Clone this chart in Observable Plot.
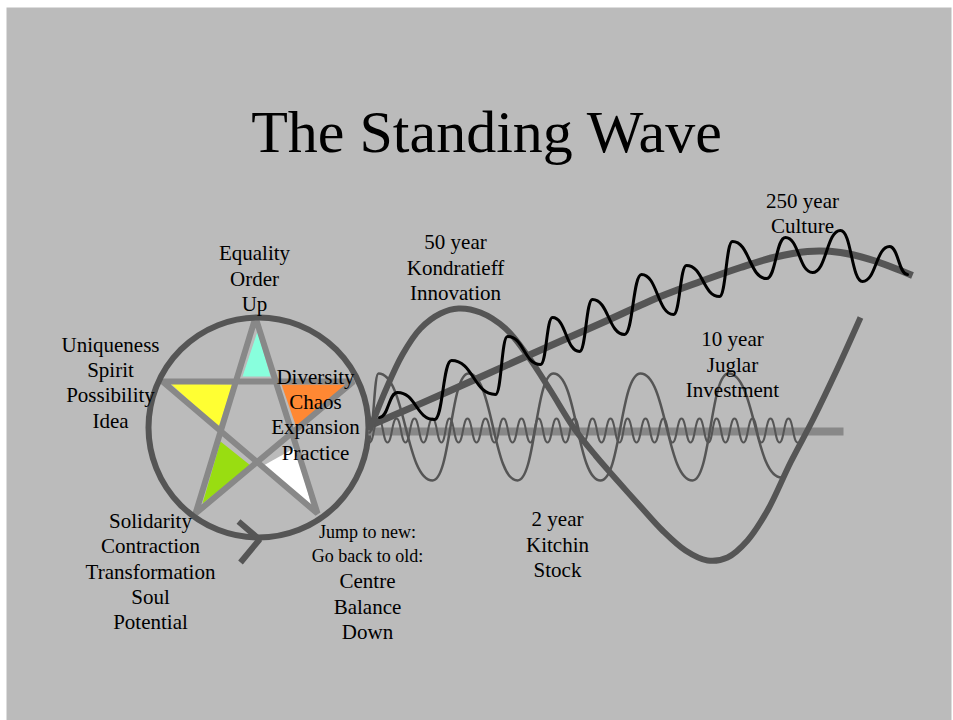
<!DOCTYPE html>
<html>
<head>
<meta charset="utf-8">
<script src="https://cdn.jsdelivr.net/npm/d3@7"></script>
<script src="https://cdn.jsdelivr.net/npm/@observablehq/plot@0.6"></script>
<style>
  html, body { margin: 0; padding: 0; background: #ffffff; }
  #chart svg { display: block; }
</style>
</head>
<body>
<div id="chart"></div>
<script>
// ---------- DATA (diagram coordinates: x to the right, y downward) ----------
const titleText = ["The Standing Wave"];
const titleAnchor = [{x: 486, y: 151}];

// Pentagram: enclosing circle centre and the star's five points
const circleCentre = [{x: 258, y: 427}];
const starPath = [ // top -> bottom-left -> right -> left -> bottom-right -> top
  {x: 255, y: 317}, {x: 195, y: 513}, {x: 353, y: 381},
  {x: 162, y: 381}, {x: 317, y: 513}, {x: 255, y: 317}
];
// Coloured arms of the star
const armTop   = [{x: 257, y: 331}, {x: 242, y: 376}, {x: 270, y: 376}];
const armLeft  = [{x: 170, y: 383}, {x: 232, y: 384}, {x: 218, y: 427}];
const armRight = [{x: 281, y: 384}, {x: 349, y: 384}, {x: 297, y: 430}];
const armLowL  = [{x: 220, y: 441}, {x: 250, y: 465}, {x: 202, y: 503}];
const armLowR  = [{x: 263, y: 465}, {x: 297, y: 446}, {x: 311, y: 507}];
// Chevron under the circle
const chevron = [{x: 238, y: 521}, {x: 259, y: 539}, {x: 240, y: 562}];

// Waves
const axisLine = [{x: 368, y: 431}, {x: 843, y: 431}];
// 2 year Kitchin: alternating troughs / peaks
const kitchin = [
  [369,442],[378,418],[387,442],[396,418],[405,442],[414,418],[423,442],[432,418],
  [441,442],[449,418],[458,442],[467,418],[476,442],[485,418],[494,442],[503,418],
  [512,442],[521,418],[530,442],[538,418],[547,442],[556,418],[565,442],[574,418],
  [583,442],[592,418],[601,442],[610,418],[619,442],[627,418],[636,442],[645,418],
  [654,442],[663,418],[672,442],[681,418],[690,442],[699,418],[708,442],[716,418],
  [725,442],[734,418],[743,442],[752,418],[761,442],[770,418],[779,442],[788,418],
  [797,442]
].map(([x, y]) => ({x, y}));
// 10 year Juglar
const juglar = [
  [369,432],[378,373],[432,480],[468,373],[517,480],[553,373],
  [600,480],[640,373],[692,480],[728,373],[781,477]
].map(([x, y]) => ({x, y}));
// 50 year Kondratieff
const kondratieff = [
  [369,430],[385,390],[402,354],[420,328],[440,313],[458,308],[480,312],
  [505,328],[527,355],[550,390],[573,427],[595,455],[615,478],[640,506],
  [662,530],[685,550],[707,560],[727,557],[747,540],[767,510],[790,462],
  [813,418],[837,368],[860,317]
].map(([x, y]) => ({x, y}));
// 250 year Culture trend
const culture = [
  [372,424],[450,390],[530,354],[600,323],[660,296],[700,281],[740,267],
  [773,257],[807,251],[840,252],[873,260],[912,275]
].map(([x, y]) => ({x, y}));
// Black oscillation riding on the Culture trend (alternating peaks / troughs)
const rider = [
  [379,417],[397,392],[434,419],[451,360],[495,394],[507,336],[540,364],
  [552,317],[579,351],[592,299],[624,334],[641,274],[673,314],[686,265],
  [719,296],[732,241],[766,278],[785,237],[812,272],[840,230],[862,281],
  [889,246],[907,274]
].map(([x, y]) => ({x, y}));

// Labels
const labels = [
  {x: 254, y: 277, text: "Equality\nOrder\nUp"},
  {x: 110, y: 381, text: "Uniqueness\nSpirit\nPossibility\nIdea"},
  {x: 150, y: 570, text: "Solidarity\nContraction\nTransformation\nSoul\nPotential"},
  {x: 315, y: 413, text: "Diversity\nChaos\nExpansion\nPractice"},
  {x: 367, y: 605, text: "Centre\nBalance\nDown"},
  {x: 455, y: 266, text: "50 year\nKondratieff\nInnovation"},
  {x: 557, y: 543, text: "2 year\nKitchin\nStock"},
  {x: 732, y: 363, text: "10 year\nJuglar\nInvestment"},
  {x: 802, y: 212, text: "250 year\nCulture"}
];
const smallLabels = [{x: 367, y: 542, text: "Jump to new:\nGo back to old:"}];

// ---------- STYLE ----------
const serif = "'Liberation Serif', 'Times New Roman', Times, serif";
const dark = "#555555", mid = "#888888";
const armColors = {top: "#88ffdd", left: "#ffff33", right: "#ff8833", lowL: "#99dd11", lowR: "#ffffff"};

const arm = (pts, color) => Plot.line(pts, {x: "x", y: "y", curve: "linear-closed", fill: color, stroke: "none"});
const wave = (pts, opts) => Plot.line(pts, {x: "x", y: "y", ...opts});

const chart = Plot.plot({
  width: 953,
  height: 720,
  marginLeft: 6, marginTop: 7, marginRight: 2, marginBottom: 0,
  x: {domain: [0, 953], range: [0, 953], axis: null},
  y: {domain: [0, 720], range: [0, 720], axis: null},
  style: {background: "#ffffff", fontFamily: serif},
  marks: [
    Plot.frame({fill: "#bbbbbb", stroke: "none"}),
    // star arms
    arm(armTop, armColors.top),
    arm(armLeft, armColors.left),
    arm(armRight, armColors.right),
    arm(armLowL, armColors.lowL),
    arm(armLowR, armColors.lowR),
    // star
    Plot.line(starPath, {x: "x", y: "y", stroke: mid, strokeWidth: 6, strokeLinejoin: "miter", strokeLinecap: "butt"}),
    // circle
    Plot.dot(circleCentre, {x: "x", y: "y", r: 110, stroke: dark, strokeWidth: 6, fill: "none"}),
    wave(chevron, {stroke: dark, strokeWidth: 6, strokeLinecap: "butt", strokeLinejoin: "miter"}),
    // waves
    wave(axisLine, {stroke: mid, strokeWidth: 8, strokeLinecap: "butt"}),
    wave(kitchin, {stroke: dark, strokeWidth: 2, curve: "bump-x"}),
    wave(juglar, {stroke: dark, strokeWidth: 2.5, curve: "bump-x"}),
    wave(culture, {stroke: dark, strokeWidth: 7, curve: "catmull-rom", strokeLinecap: "butt"}),
    wave(kondratieff, {stroke: dark, strokeWidth: 6, curve: "catmull-rom", strokeLinecap: "butt"}),
    wave(rider, {stroke: "#000000", strokeWidth: 3, curve: "bump-x"}),
    // texts
    Plot.text(labels, {x: "x", y: "y", text: "text", fontSize: 21, lineHeight: 1.21, lineAnchor: "middle", textAnchor: "middle", fill: "#000000", fontFamily: serif}),
    Plot.text(smallLabels, {x: "x", y: "y", text: "text", fontSize: 18, lineHeight: 1.33, lineAnchor: "middle", textAnchor: "middle", fill: "#000000", fontFamily: serif}),
    Plot.text(titleAnchor, {x: "x", y: "y", text: (d, i) => titleText[i], fontSize: 60, lineAnchor: "bottom", textAnchor: "middle", fill: "#000000", fontFamily: serif})
  ]
});
document.getElementById("chart").appendChild(chart);
</script>
</body>
</html>
